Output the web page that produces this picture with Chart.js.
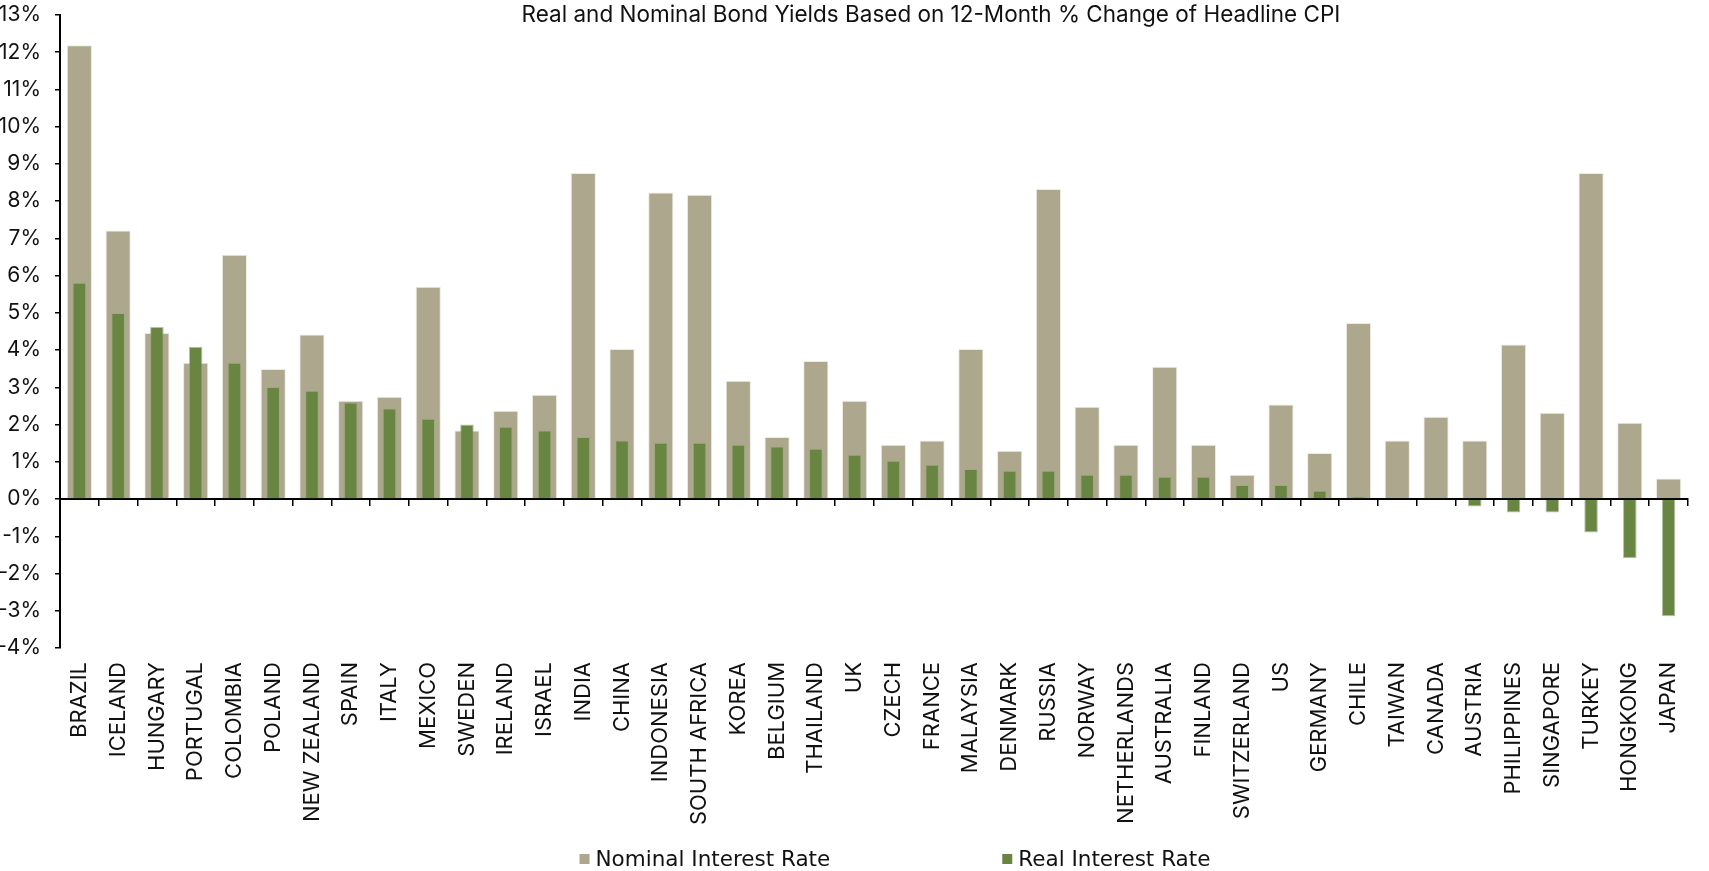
<!DOCTYPE html>
<html>
<head>
<meta charset="utf-8">
<script src="https://cdn.jsdelivr.net/npm/chart.js@4.4.1/dist/chart.umd.min.js"></script>
<style>
  html, body { margin: 0; padding: 0; background: #ffffff; overflow: hidden; }
  canvas { display: block; }
</style>
</head>
<body>
<canvas id="yields" width="1709" height="871"></canvas>
<script>
// Countries, ordered by real interest rate
const countries = [
  'BRAZIL', 'ICELAND', 'HUNGARY', 'PORTUGAL', 'COLOMBIA', 'POLAND', 'NEW ZEALAND',
  'SPAIN', 'ITALY', 'MEXICO', 'SWEDEN', 'IRELAND', 'ISRAEL', 'INDIA', 'CHINA',
  'INDONESIA', 'SOUTH AFRICA', 'KOREA', 'BELGIUM', 'THAILAND', 'UK', 'CZECH',
  'FRANCE', 'MALAYSIA', 'DENMARK', 'RUSSIA', 'NORWAY', 'NETHERLANDS', 'AUSTRALIA',
  'FINLAND', 'SWITZERLAND', 'US', 'GERMANY', 'CHILE', 'TAIWAN', 'CANADA', 'AUSTRIA',
  'PHILIPPINES', 'SINGAPORE', 'TURKEY', 'HONGKONG', 'JAPAN'
];

// 10-year nominal bond yield, %
const nominalRate = [
  12.19, 7.21, 4.46, 3.66, 6.56, 3.49, 4.42,
  2.64, 2.75, 5.70, 1.84, 2.37, 2.80, 8.76, 4.03,
  8.23, 8.17, 3.18, 1.67, 3.71, 2.64, 1.46,
  1.57, 4.03, 1.30, 8.33, 2.48, 1.46, 3.55,
  1.46, 0.65, 2.54, 1.24, 4.73, 1.57, 2.21, 1.57,
  4.15, 2.32, 8.76, 2.05, 0.55
];

// Nominal yield less 12-month headline CPI, %
const realRate = [
  5.81, 5.00, 4.62, 4.09, 3.66, 3.01, 2.91,
  2.59, 2.43, 2.16, 2.00, 1.94, 1.84, 1.67, 1.57,
  1.51, 1.51, 1.46, 1.41, 1.35, 1.19, 1.03,
  0.92, 0.81, 0.76, 0.76, 0.65, 0.65, 0.60,
  0.60, 0.38, 0.38, 0.22, 0.06, 0.00, 0.00, -0.20,
  -0.36, -0.36, -0.90, -1.59, -3.15
];

const seriesNames = ['Nominal Interest Rate', 'Real Interest Rate'];
const chartTitle = 'Real and Nominal Bond Yields Based on 12-Month % Change of Headline CPI';
const yMin = -4;
const yMax = 13;

const NOMINAL_COLOR = '#ADA88D';
const REAL_COLOR = '#698542';
const AXIS_COLOR = '#000000';
const TEXT_COLOR = '#111111';
const MAIN_FONT = 'Inter, Lato, sans-serif';
const LEGEND_FONT = '"DejaVu Sans", sans-serif';

// Title sits over the top of the plot area
const titlePlugin = {
  id: 'overlayTitle',
  afterDraw(chart) {
    const ctx = chart.ctx;
    ctx.save();
    ctx.font = '22.5px ' + MAIN_FONT;
    ctx.fillStyle = TEXT_COLOR;
    ctx.textAlign = 'center';
    ctx.textBaseline = 'alphabetic';
    const cx = (chart.chartArea.left + chart.chartArea.right) / 2 + 57;
    ctx.fillText(chartTitle, cx, 22);
    ctx.restore();
  }
};

// Legend: square swatch + label, widely spaced along the bottom
const legendPlugin = {
  id: 'wideLegend',
  afterDraw(chart) {
    const ctx = chart.ctx;
    ctx.save();
    ctx.font = '21.5px ' + LEGEND_FONT;
    ctx.textBaseline = 'middle';
    ctx.textAlign = 'left';
    const box = 10, gapText = 6, gapItems = 172;
    const items = chart.data.datasets.slice().sort((a, b) => a.legendIndex - b.legendIndex);
    const widths = items.map(d => box + gapText + ctx.measureText(d.label).width);
    const total = widths.reduce((s, w) => s + w, 0) + gapItems * (items.length - 1);
    let x = (chart.chartArea.left + chart.chartArea.right) / 2 + 21 - total / 2;
    const y = 860;
    items.forEach((d, i) => {
      ctx.fillStyle = d.backgroundColor;
      ctx.fillRect(x, y - box / 2 - 1, box, box);
      ctx.fillStyle = TEXT_COLOR;
      ctx.fillText(d.label, x + box + gapText, y);
      x += widths[i] + gapItems;
    });
    ctx.restore();
  }
};

new Chart(document.getElementById('yields'), {
  type: 'bar',
  data: {
    labels: countries,
    datasets: [
      {
        label: seriesNames[0],
        legendIndex: 0,
        data: nominalRate,
        backgroundColor: NOMINAL_COLOR,
        borderColor: 'rgba(235,233,222,0.9)',
        borderWidth: 1,
        borderSkipped: 'start',
        grouped: false,
        barPercentage: 0.65,
        categoryPercentage: 1.0,
        order: 2
      },
      {
        label: seriesNames[1],
        legendIndex: 1,
        data: realRate,
        backgroundColor: REAL_COLOR,
        borderColor: 'rgba(150,170,120,0.7)',
        borderWidth: 1,
        borderSkipped: 'start',
        grouped: false,
        barPercentage: 0.35,
        categoryPercentage: 1.0,
        order: 1
      }
    ]
  },
  options: {
    responsive: false,
    animation: false,
    events: [],
    layout: { padding: { top: 15, right: 2, bottom: 42, left: 0 } },
    plugins: {
      legend: { display: false },
      title: { display: false },
      tooltip: { enabled: false }
    },
    scales: {
      x: {
        type: 'category',
        position: 'bottom',
        offset: true,
        grid: { display: false, drawTicks: false },
        border: { display: false },
        ticks: {
          autoSkip: false,
          maxRotation: 90,
          minRotation: 90,
          padding: 14,
          color: TEXT_COLOR,
          font: { family: MAIN_FONT, size: 22 }
        },
        afterFit(scale) { scale.height = 181; }
      },
      zeroAxis: {
        type: 'category',
        axis: 'x',
        position: { y: 0 },
        offset: true,
        grid: {
          display: true,
          offset: true,
          drawOnChartArea: false,
          drawTicks: true,
          tickLength: 6,
          color: AXIS_COLOR,
          lineWidth: 1.5
        },
        border: { display: true, color: AXIS_COLOR, width: 2 },
        ticks: { display: false }
      },
      y: {
        type: 'linear',
        position: 'left',
        min: yMin,
        max: yMax,
        grid: {
          display: true,
          drawOnChartArea: false,
          drawTicks: true,
          tickLength: 5,
          color: AXIS_COLOR,
          lineWidth: 1.5
        },
        border: { display: true, color: AXIS_COLOR, width: 2 },
        ticks: {
          stepSize: 1,
          padding: 14,
          color: TEXT_COLOR,
          font: { family: MAIN_FONT, size: 21 },
          callback: (v) => v + '%'
        },
        afterFit(scale) {
          scale.width = 60;
          scale.paddingTop = 0;
          scale.paddingBottom = 0;
        }
      }
    }
  },
  plugins: [titlePlugin, legendPlugin]
});
</script>
</body>
</html>
